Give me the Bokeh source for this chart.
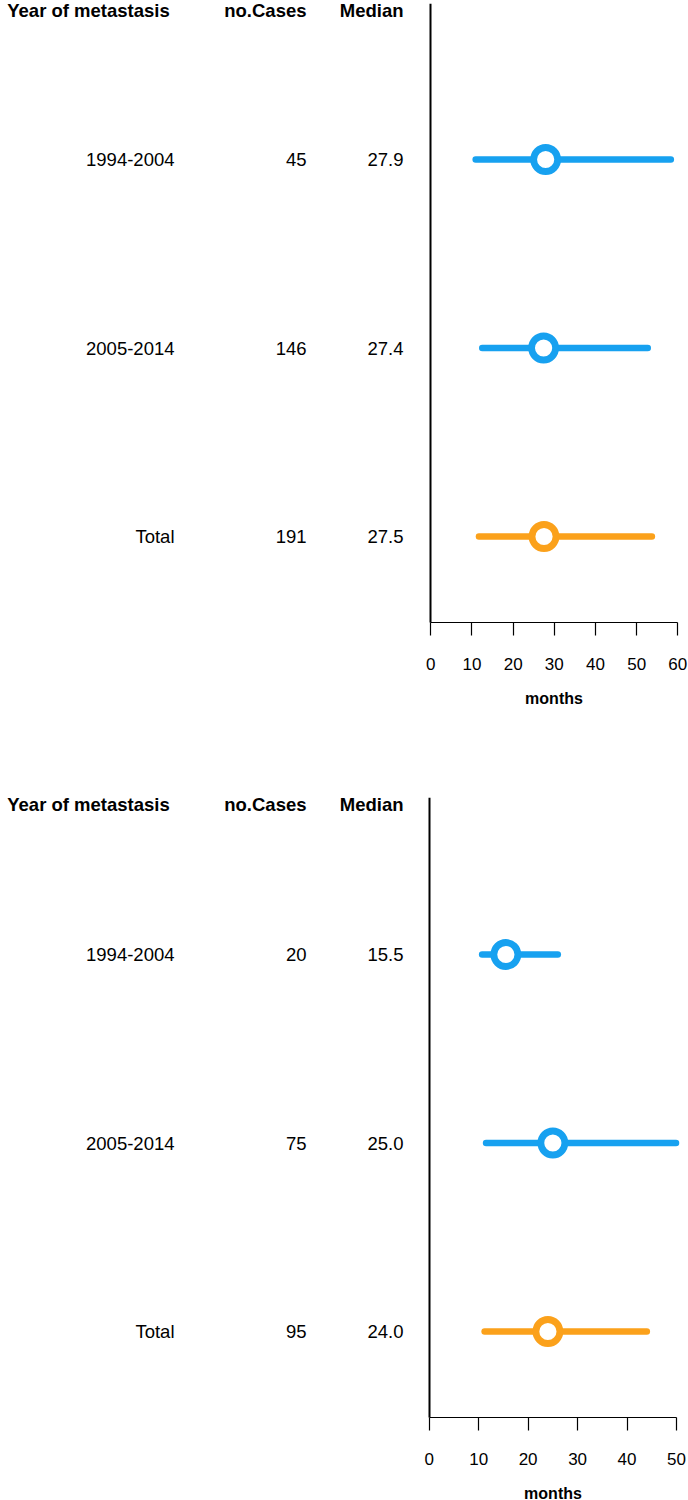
from bokeh.plotting import figure
from bokeh.layouts import column, row
from bokeh.models import Range1d, FixedTicker, ColumnDataSource
from bokeh.core.properties import value
from bokeh.embed import file_html
from bokeh.resources import INLINE

# ---- data ----
groups = ["1994-2004", "2005-2014", "Total"]
headers = ["Year of metastasis", "no.Cases", "Median"]
x_label = "months"

cases_a = [45, 146, 191]
median_a = [27.9, 27.4, 27.5]
lower_a = [10.9, 12.5, 11.7]
upper_a = [58.3, 52.7, 53.7]
ticks_a = [0, 10, 20, 30, 40, 50, 60]

cases_b = [20, 75, 95]
median_b = [15.5, 25.0, 24.0]
lower_b = [10.7, 11.5, 11.2]
upper_b = [26.0, 49.9, 44.0]
ticks_b = [0, 10, 20, 30, 40, 50]

colors = ["#17A1F0", "#17A1F0", "#FBA11B"]

FONT = "Liberation Sans"
ROW_PX = 188.5
LEFT_W = 420
RIGHT_W = 268


def panel(height, last_row_px, axis_px, cases, medians, lo, hi,
          ticks, zero_px, px_per_unit):
    border_top = 3
    ys = [3, 2, 1]
    # frame spans border_top .. height (pixels); row "1" sits at last_row_px
    y0 = 1 - (height - last_row_px) / ROW_PX
    y1 = 1 + (last_row_px - border_top) / ROW_PX
    header_y = 1 + (last_row_px - 10) / ROW_PX
    axis_y = 1 - (axis_px - last_row_px) / ROW_PX

    # ----- left: table of texts -----
    left = figure(width=LEFT_W, height=height, x_range=Range1d(0, LEFT_W),
                  y_range=Range1d(y0, y1), x_axis_type=None, y_axis_type=None,
                  min_border_left=0, min_border_right=0, min_border_top=border_top,
                  min_border_bottom=0, toolbar_location=None,
                  output_backend="svg", outline_line_color=None)
    left.grid.visible = False
    src = ColumnDataSource(dict(
        y=ys, g=groups, n=[str(c) for c in cases],
        m=["%.1f" % v for v in medians]))
    common = dict(text_baseline="middle", text_font=value(FONT),
                  text_font_size="18.5px", text_color="black")
    left.text(x=174, y="y", text="g", source=src, text_align="right", **common)
    left.text(x=306, y="y", text="n", source=src, text_align="right", **common)
    left.text(x=403, y="y", text="m", source=src, text_align="right", **common)
    hsrc = ColumnDataSource(dict(x=[88, 306, 403], y=[header_y] * 3, t=headers,
                                 a=["center", "right", "right"]))
    left.text(x="x", y="y", text="t", text_align="a", source=hsrc,
              text_font_style="bold", **common)

    # ----- right: forest plot -----
    frame_left = LEFT_W
    frame_right = LEFT_W + RIGHT_W
    xs = (frame_left - zero_px) / px_per_unit
    xe = (frame_right - zero_px) / px_per_unit
    right = figure(width=RIGHT_W, height=height, x_range=Range1d(xs, xe),
                   y_range=Range1d(y0, y1),
                   min_border_left=0, min_border_right=0,
                   min_border_top=border_top, min_border_bottom=0,
                   toolbar_location=None, output_backend="svg",
                   outline_line_color=None)
    right.grid.visible = False

    ax = right.xaxis[0]
    ax.fixed_location = axis_y
    ax.ticker = FixedTicker(ticks=ticks, minor_ticks=[])
    ax.bounds = (ticks[0], ticks[-1])
    ax.axis_line_color = "black"
    ax.axis_line_width = 1.2
    ax.major_tick_line_color = "black"
    ax.major_tick_line_width = 1.2
    ax.major_tick_in = 0
    ax.major_tick_out = 13
    ax.minor_tick_line_color = None
    ax.major_label_standoff = 22
    ax.major_label_text_font = FONT
    ax.major_label_text_font_size = "17px"
    ax.major_label_text_color = "black"
    ax.axis_label = x_label
    ax.axis_label_standoff = 17
    ax.axis_label_text_font = FONT
    ax.axis_label_text_font_size = "16px"
    ax.axis_label_text_font_style = "bold"
    ax.axis_label_text_color = "black"

    yax = right.yaxis[0]
    yax.fixed_location = 0
    yax.bounds = (axis_y, y1)
    yax.ticker = FixedTicker(ticks=[], minor_ticks=[])
    yax.axis_line_color = "black"
    yax.axis_line_width = 2
    yax.major_tick_line_color = None
    yax.minor_tick_line_color = None
    yax.major_label_text_color = None

    dsrc = ColumnDataSource(dict(y=ys, lo=lo, hi=hi, m=medians, c=colors))
    right.segment(x0="lo", y0="y", x1="hi", y1="y", source=dsrc,
                  line_color="c", line_width=6.5, line_cap="round")
    right.scatter(x="m", y="y", source=dsrc, size=24, fill_color="white",
                  line_color="c", line_width=6.8)
    return row(left, right, spacing=0)


top = panel(794, 536, 622, cases_a, median_a, lower_a, upper_a, ticks_a, 430.3, 4.1167)
bottom = panel(706, 537, 623, cases_b, median_b, lower_b, upper_b, ticks_b, 428.7, 4.946)

layout = column(top, bottom, spacing=0)

open("out.html", "w").write(file_html(layout, INLINE))
